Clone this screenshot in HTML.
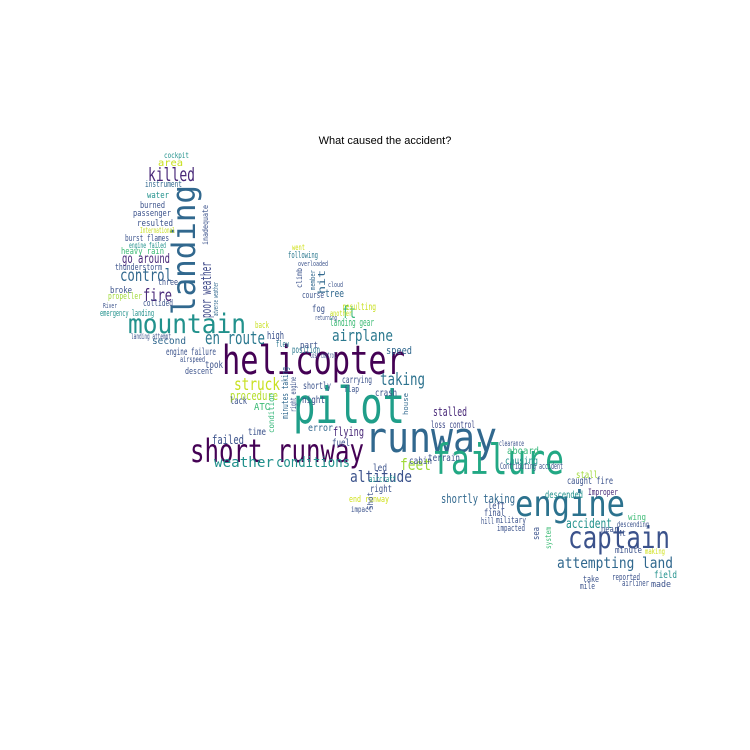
<!DOCTYPE html>
<html><head><meta charset="utf-8">
<style>
html,body{margin:0;padding:0;background:#fff;}
#wrap{position:relative;width:750px;height:750px;overflow:hidden;background:#fff;}
#title{position:absolute;left:0;width:770px;top:135px;text-align:center;font:11px "Liberation Sans","DejaVu Sans",sans-serif;color:#000;}
.w{position:absolute;white-space:nowrap;font-family:"DejaVu Sans Mono","Liberation Mono",monospace;line-height:1;transform-origin:0 0;}
</style></head><body>
<div id="wrap">
<div id="title">What caused the accident?</div>
</div>
<script>
// word, x, y(top), length px, font size, color, vertical
const words = [
["pilot",293,386,112,50,"#1f9e89",0],
["runway",365,421,132,42,"#31688e",0],
["failure",432,443,132,42,"#22a884",0],
["engine",515,491,110,36,"#2c728e",0],
["captain",568,527,102,30,"#3b528b",0],
["helicopter",222,345,183,40,"#440154",0],
["short runway",190,438,174,32,"#440154",0],
["mountain",128,314,118,27,"#21918c",0],
["landing",168,185,32,130,"#31688e",1],
["attempting land",557,557,116,15,"#31688e",0],
["killed",148,168,47,19,"#482878",0],
["en route",205,332,60,18,"#2a788e",0],
["control",120,270,52,17,"#31688e",0],
["fire",143,290,29,17,"#482878",0],
["poor weather",200,262,14,56,"#3e4989",1],
["go around",122,254,48,13,"#482878",0],
["airplane",332,330,61,16,"#2a788e",0],
["ft",342,307,14,17,"#35b779",0],
["struck",234,379,46,17,"#c8e020",0],
["taking",380,374,45,17,"#2c728e",0],
["procedure",230,391,48,12,"#b5de2b",0],
["weather",214,457,60,14,"#21918c",0],
["conditions",276,457,74,14,"#21918c",0],
["altitude",350,471,62,16,"#3b528b",0],
["feet",400,459,31,16,"#a0da39",0],
["stalled",433,407,34,12,"#482878",0],
["loss control",431,422,44,10,"#3e4989",0],
["shortly taking",441,494,74,12,"#31688e",0],
["accident",566,519,46,13,"#21918c",0],
["failed",212,435,32,12,"#3b528b",0],
["flying",333,427,31,12,"#482878",0],
["hit",318,270,10,24,"#31688e",1],
["landing gear",330,318,44,11,"#3cbb75",0],
["resulting",342,304,34,10,"#c8e020",0],
["tree",325,289,19,11,"#31688e",0],
["course",302,293,22,9,"#3b528b",0],
["fog",312,306,13,10,"#3b528b",0],
["following",288,253,30,9,"#2a788e",0],
["went",292,245,13,8,"#d0e11c",0],
["speed",386,346,26,11,"#31688e",0],
["position",292,347,28,10,"#2a788e",0],
["lost control",310,353,26,8,"#3b528b",0],
["part",300,343,18,9,"#3b528b",0],
["high",267,331,17,11,"#3b528b",0],
["flew",276,342,13,9,"#2a788e",0],
["back",255,323,14,9,"#c8e020",0],
["engine failure",166,349,50,10,"#3b528b",0],
["second",152,338,34,10,"#31688e",0],
["took",205,362,18,10,"#3b528b",0],
["descent",185,369,28,9,"#3b528b",0],
["airspeed",180,357,25,8,"#3b528b",0],
["lack",230,398,17,10,"#3b528b",0],
["ATC",254,404,16,10,"#3cbb75",0],
["time",248,429,18,10,"#3b528b",0],
["night",302,397,23,10,"#3b528b",0],
["shortly",303,383,28,10,"#3b528b",0],
["carrying",342,377,30,10,"#3b528b",0],
["crash",375,390,22,10,"#3b528b",0],
["flap",344,387,15,9,"#3b528b",0],
["error",308,425,25,10,"#31688e",0],
["fuel",332,440,18,10,"#3b528b",0],
["led",373,465,14,10,"#3b528b",0],
["cabin",409,458,23,10,"#3b528b",0],
["aircraft",369,477,27,9,"#21918c",0],
["terrain",428,455,32,10,"#3b528b",0],
["right",370,486,22,10,"#3b528b",0],
["end runway",349,497,40,9,"#d0e11c",0],
["impact",351,507,21,8,"#3b528b",0],
["aboard",507,448,32,10,"#35b779",0],
["causing",505,458,33,10,"#21918c",0],
["clearance",499,441,25,8,"#3b528b",0],
["Contributing accident",500,464,63,9,"#3b528b",0],
["stall",576,472,22,10,"#a0da39",0],
["caught fire",567,478,46,10,"#3b528b",0],
["descended",545,492,38,10,"#21918c",0],
["Improper",588,490,30,9,"#482878",0],
["left",488,503,17,10,"#3b528b",0],
["final",484,510,21,10,"#3b528b",0],
["military",496,518,30,9,"#3b528b",0],
["hill",481,519,13,9,"#3b528b",0],
["impacted",497,526,28,9,"#3b528b",0],
["wing",628,515,18,9,"#3cbb75",0],
["descending",617,522,32,8,"#3b528b",0],
["near",601,527,17,9,"#3b528b",0],
["Mt",617,531,9,8,"#3b528b",0],
["minute",615,548,27,9,"#3b528b",0],
["making",645,549,20,8,"#d0e11c",0],
["take",583,577,16,9,"#3b528b",0],
["field",654,572,23,10,"#21918c",0],
["reported",612,575,28,9,"#3b528b",0],
["airliner",622,581,27,9,"#3b528b",0],
["made",651,582,20,9,"#3b528b",0],
["mile",580,584,15,9,"#3b528b",0],
["sea",533,527,9,13,"#3b528b",1],
["system",545,527,8,22,"#3cbb75",1],
["area",158,160,25,10,"#c8e020",0],
["cockpit",164,153,25,8,"#21918c",0],
["instrument",145,182,37,9,"#31688e",0],
["water",147,193,22,9,"#21918c",0],
["burned",140,203,25,9,"#3b528b",0],
["passenger",133,211,38,9,"#3b528b",0],
["resulted",137,221,36,9,"#3b528b",0],
["International",140,228,35,8,"#c8e020",0],
["burst flames",125,236,44,9,"#3b528b",0],
["engine failed",129,243,37,8,"#21918c",0],
["heavy rain",121,249,43,9,"#3cbb75",0],
["thunderstorm",115,265,47,9,"#3b528b",0],
["three",158,280,20,9,"#3b528b",0],
["broke",110,288,22,9,"#3b528b",0],
["propeller",108,294,34,9,"#a0da39",0],
["collided",143,301,30,9,"#3b528b",0],
["emergency landing",100,311,54,9,"#21918c",0],
["River",103,304,14,7,"#3b528b",0],
["landing attempt",131,334,40,8,"#3b528b",0],
["inadequate",202,205,8,40,"#3b528b",1],
["adverse weather",213,282,7,34,"#31688e",1],
["minutes taking",282,367,9,52,"#31688e",1],
["condition",268,393,8,40,"#35b779",1],
["right engine",290,377,8,35,"#3b528b",1],
["house",403,393,7,22,"#31688e",1],
["Shot",367,492,8,18,"#3b528b",1],
["climb",296,268,8,20,"#3b528b",1],
["member",310,270,7,20,"#31688e",1],
["overloaded",298,262,30,7,"#3b528b",0],
["cloud",328,283,15,7,"#3b528b",0],
["another",330,311,22,8,"#c8e020",0],
["returning",315,316,22,7,"#3b528b",0]
];
const wrap=document.getElementById('wrap');
for(const wd of words){
  const [t,x,y,len,fs,col,vert]=wd;
  const el=document.createElement('span');
  el.className='w';
  el.textContent=t;
  
  
  el.style.color=col;
  el.style.fontSize=fs+'px';
  el.style.left=x+'px';
  wrap.appendChild(el);
  const mw=el.getBoundingClientRect().width||1;
  if(!vert){
    el.style.top=(y-fs*0.1)+'px';
    el.style.transform='scaleX('+(len/mw)+')';
  } else {
    el.style.fontSize=len+'px';
    const mw2=el.getBoundingClientRect().width||1;
    el.style.top=(y+fs)+'px';
    el.style.transform='rotate(-90deg) scaleX('+(fs/mw2)+')';
  }
}
</script>
</body></html>
